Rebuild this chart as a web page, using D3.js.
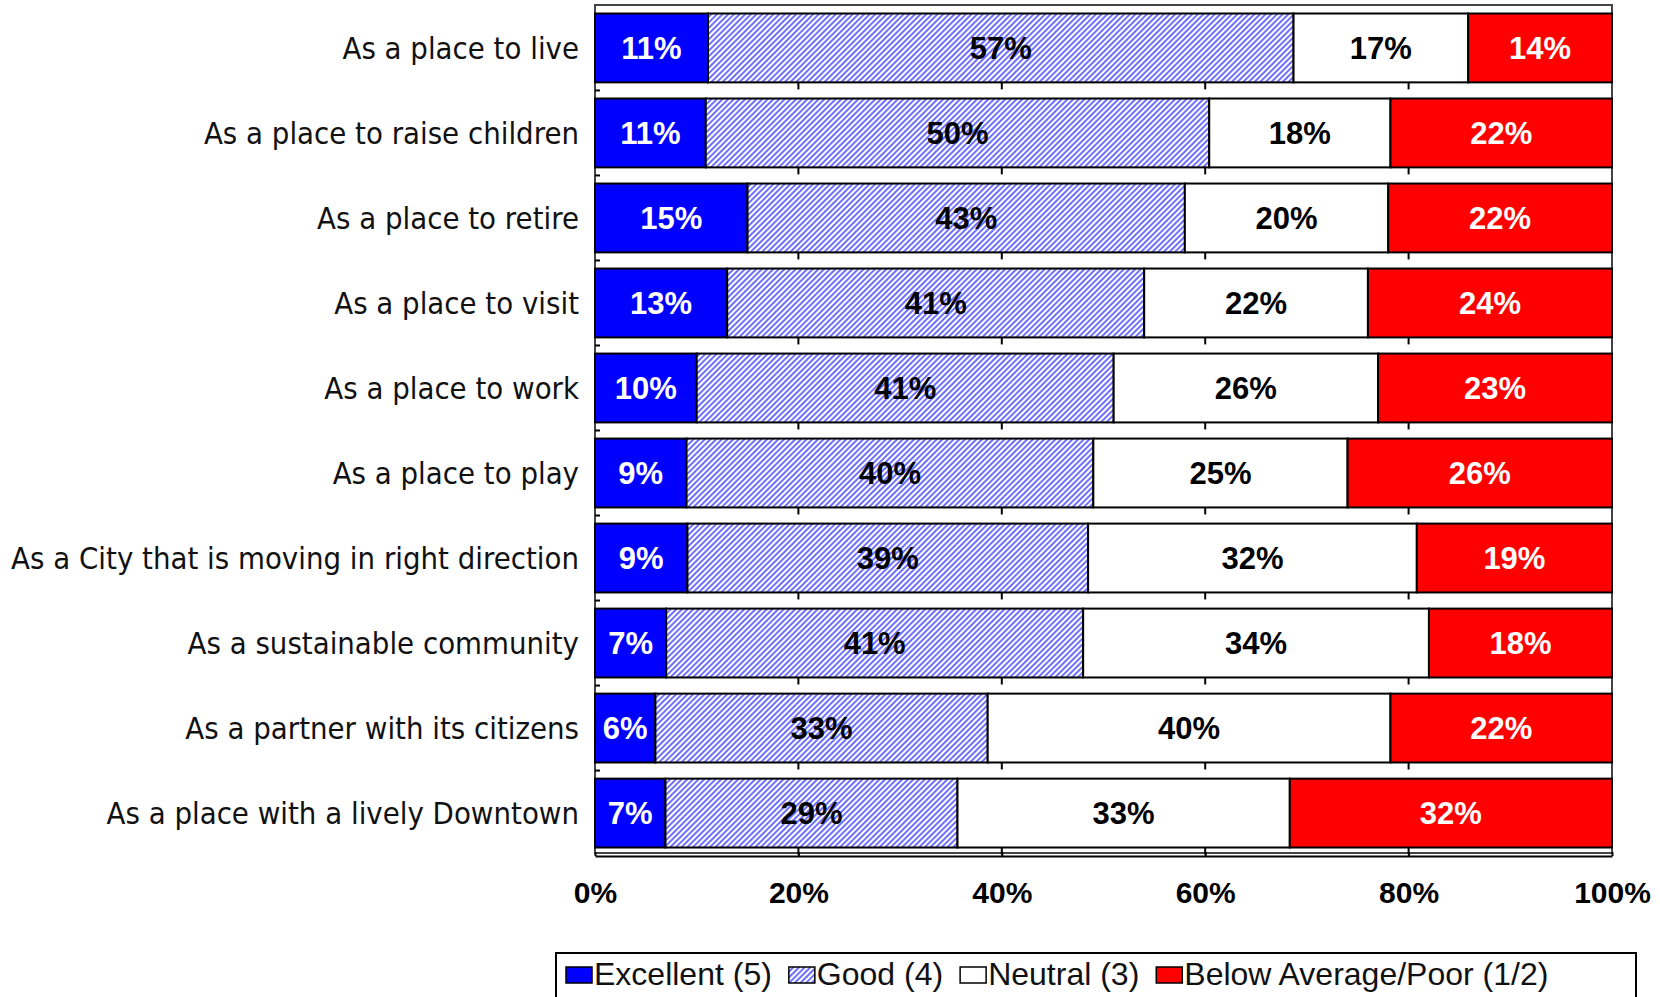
<!DOCTYPE html>
<html>
<head>
<meta charset="utf-8">
<script src="https://cdn.jsdelivr.net/npm/d3@7"></script>
<style>
  body { margin: 0; background: #fff; }
  svg { display: block; }
</style>
</head>
<body>
<div id="chart"></div>
<script>
var categories = [
  "As a place to live",
  "As a place to raise children",
  "As a place to retire",
  "As a place to visit",
  "As a place to work",
  "As a place to play",
  "As a City that is moving in right direction",
  "As a sustainable community",
  "As a partner with its citizens",
  "As a place with a lively Downtown"
];
var excellent = [11, 11, 15, 13, 10, 9, 9, 7, 6, 7];
var good      = [57, 50, 43, 41, 41, 40, 39, 41, 33, 29];
var neutral   = [17, 18, 20, 22, 26, 25, 32, 34, 40, 33];
var below     = [14, 22, 22, 24, 23, 26, 19, 18, 22, 32];

var seriesNames = ["Excellent (5)", "Good (4)", "Neutral (3)", "Below Average/Poor (1/2)"];
var seriesKeys = ["excellent", "good", "neutral", "below"];
var tickValues = [0, 0.2, 0.4, 0.6, 0.8, 1];

var width = 1660, height = 997;
var plotLeft = 595, plotRight = 1612, plotTop = 5, plotBottom = 856;

// rows for the stack
var rows = categories.map(function(c, i) {
  return { cat: c, excellent: excellent[i], good: good[i], neutral: neutral[i], below: below[i] };
});

var svg = d3.select("#chart")
  .append("svg")
  .attr("width", width)
  .attr("height", height);

svg.append("rect").attr("width", width).attr("height", height).attr("fill", "#fff");

// hatch for the Good series
var defs = svg.append("defs");
var hatch = defs.append("pattern")
  .attr("id", "hatch")
  .attr("patternUnits", "userSpaceOnUse")
  .attr("width", 4)
  .attr("height", 4)
  .attr("patternTransform", "rotate(45)");
hatch.append("rect").attr("width", 4).attr("height", 4).attr("fill", "#fff");
hatch.append("line")
  .attr("x1", 1).attr("y1", 0).attr("x2", 1).attr("y2", 4)
  .attr("stroke", "#2a2aff")
  .attr("stroke-width", 1.35);

var fills = {
  excellent: "#0000ff",
  good: "url(#hatch)",
  neutral: "#ffffff",
  below: "#ff0000"
};
var textColors = {
  excellent: "#fff",
  good: "#000",
  neutral: "#000",
  below: "#fff"
};

var x = d3.scaleLinear().domain([0, 1]).range([plotLeft, plotRight]);
var y = d3.scaleBand()
  .domain(categories)
  .range([plotTop, plotBottom])
  .paddingInner(0.19)
  .paddingOuter(0.1);

var stack = d3.stack().keys(seriesKeys).offset(d3.stackOffsetExpand);
var stacked = stack(rows);

// plot area frame
svg.append("rect")
  .attr("x", plotLeft)
  .attr("y", plotTop)
  .attr("width", plotRight - plotLeft)
  .attr("height", plotBottom - plotTop - 3)
  .attr("fill", "none")
  .attr("stroke", "#444")
  .attr("stroke-width", 2);

// small ticks hanging under each bar
var gapTicks = svg.append("g");
categories.forEach(function(c) {
  gapTicks.selectAll(null)
    .data(tickValues.slice(1, 5))
    .enter()
    .append("line")
    .attr("x1", d => x(d)).attr("x2", d => x(d))
    .attr("y1", y(c) + y.bandwidth())
    .attr("y2", y(c) + y.bandwidth() + 7)
    .attr("stroke", "#000")
    .attr("stroke-width", 2);
});

// left axis ticks between categories
svg.append("g")
  .selectAll("line")
  .data(categories.slice(1))
  .enter()
  .append("line")
  .attr("x1", plotLeft).attr("x2", plotLeft + 5)
  .attr("y1", d => y(d) - y.step() * y.paddingInner() / 2)
  .attr("y2", d => y(d) - y.step() * y.paddingInner() / 2)
  .attr("stroke", "#000")
  .attr("stroke-width", 2);

// bars
var layers = svg.append("g")
  .selectAll("g")
  .data(stacked)
  .enter()
  .append("g")
  .attr("fill", d => fills[d.key]);

layers.selectAll("rect")
  .data(d => d)
  .enter()
  .append("rect")
  .attr("x", d => x(d[0]))
  .attr("y", d => y(d.data.cat))
  .attr("width", d => x(d[1]) - x(d[0]))
  .attr("height", y.bandwidth())
  .attr("stroke", "#000")
  .attr("stroke-width", 2);

// percentage labels
var labelLayers = svg.append("g")
  .selectAll("g")
  .data(stacked)
  .enter()
  .append("g");

labelLayers.selectAll("text")
  .data(function(layer) {
    return layer.map(function(d) { return { key: layer.key, d: d }; });
  })
  .enter()
  .append("text")
  .attr("x", o => (x(o.d[0]) + x(o.d[1])) / 2)
  .attr("y", o => y(o.d.data.cat) + y.bandwidth() / 2 + 11)
  .attr("text-anchor", "middle")
  .style("font-family", "'Liberation Sans', Arial, sans-serif")
  .style("font-weight", "bold")
  .style("font-size", "31px")
  .attr("fill", o => textColors[o.key])
  .text(o => o.d.data[o.key] + "%");

// bottom axis
var xAxis = d3.axisBottom(x)
  .tickValues(tickValues)
  .tickFormat(d3.format(".0%"))
  .tickSize(4)
  .tickSizeOuter(0)
  .tickPadding(43);

var axisG = svg.append("g")
  .attr("transform", "translate(0," + plotBottom + ")")
  .call(xAxis);
axisG.select(".domain").attr("stroke", "#000").attr("stroke-width", 2);
axisG.selectAll(".tick line").attr("stroke", "#000").attr("stroke-width", 2).attr("y1", -4).attr("y2", 0);
axisG.selectAll(".tick text")
  .attr("fill", "#000")
  .style("font-family", "'Liberation Sans', Arial, sans-serif")
  .style("font-weight", "bold")
  .style("font-size", "30px")
  .attr("dy", null)
  .attr("y", 47);

// category labels
var catLabels = svg.append("g")
  .selectAll("text")
  .data(categories)
  .enter()
  .append("text")
  .attr("text-anchor", "end")
  .style("font-family", "'DejaVu Sans', sans-serif")
  .style("font-size", "30px")
  .attr("fill", "#111")
  .text(d => d);

// squeeze labels a bit so the longest one fits the same width as the picture
var longest = d3.max(catLabels.nodes(), n => n.getComputedTextLength());
var squeeze = 568 / longest;
catLabels.attr("transform", d =>
  "translate(579," + (y(d) + y.bandwidth() / 2 + 11) + ") scale(" + squeeze + ",1)");

// legend
var legend = svg.append("g");
legend.append("rect")
  .attr("x", 556)
  .attr("y", 953)
  .attr("width", 1080)
  .attr("height", 60)
  .attr("fill", "#fff")
  .attr("stroke", "#000")
  .attr("stroke-width", 2);

var lx = 566;
seriesKeys.forEach(function(k, i) {
  legend.append("rect")
    .attr("x", lx)
    .attr("y", 967)
    .attr("width", 26)
    .attr("height", 16)
    .attr("fill", fills[k])
    .attr("stroke", "#000")
    .attr("stroke-width", 1.5);
  var t = legend.append("text")
    .attr("x", lx + 28)
    .attr("y", 985)
    .style("font-family", "'Liberation Sans', Arial, sans-serif")
    .style("font-size", "32px")
    .attr("fill", "#111")
    .text(seriesNames[i]);
  lx = lx + 28 + t.node().getComputedTextLength() + 17;
});
</script>
</body>
</html>
